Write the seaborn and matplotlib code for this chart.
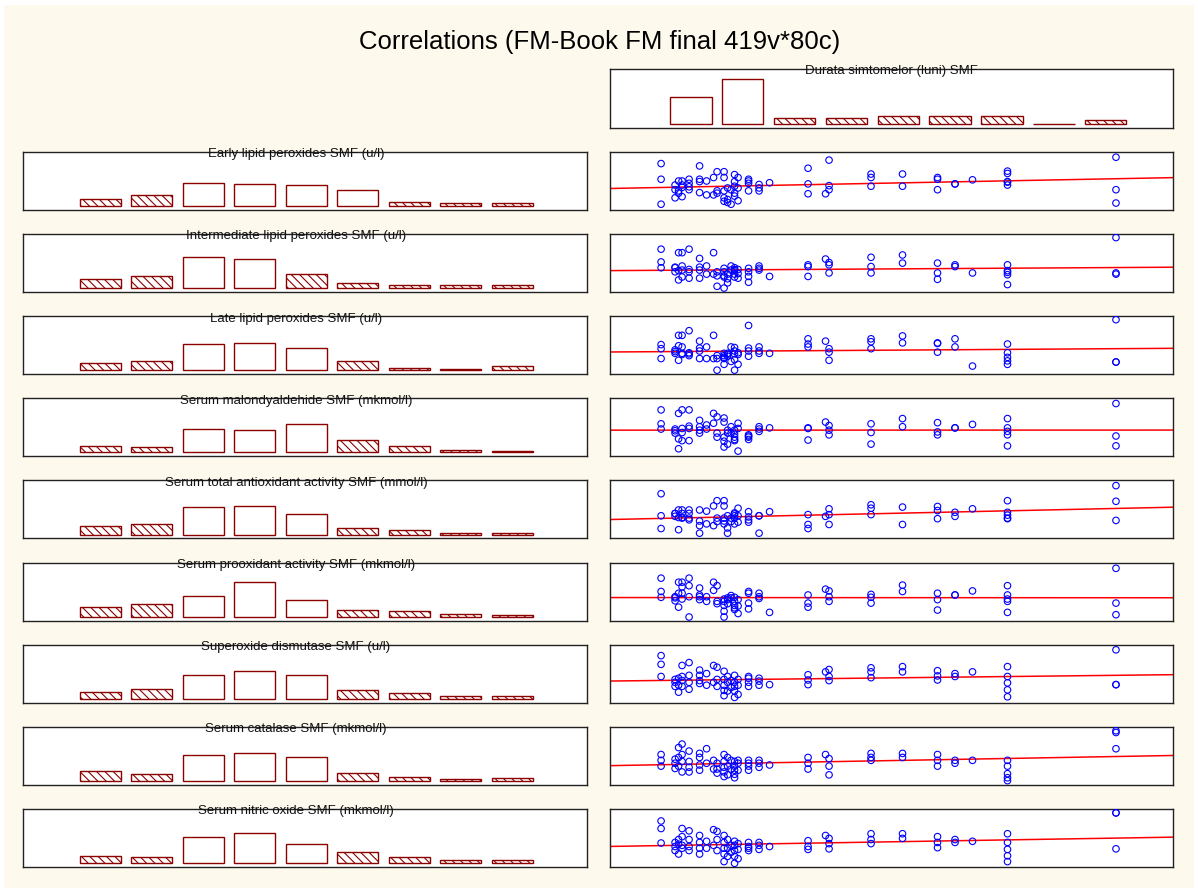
import numpy as np
import pandas as pd
import matplotlib
matplotlib.use("Agg")
import matplotlib.pyplot as plt
from matplotlib.patches import Rectangle
import seaborn as sns

# ---------------- data ----------------
chart_title = "Correlations (FM-Book FM final 419v*80c)"
x_title = "Durata simtomelor (luni) SMF"
var_titles = [
    "Early lipid peroxides SMF (u/l)",
    "Intermediate lipid peroxides SMF (u/l)",
    "Late lipid peroxides SMF (u/l)",
    "Serum malondyaldehide SMF (mkmol/l)",
    "Serum total antioxidant activity SMF (mmol/l)",
    "Serum prooxidant activity SMF (mkmol/l)",
    "Superoxide dismutase SMF (u/l)",
    "Serum catalase SMF (mkmol/l)",
    "Serum nitric oxide SMF (mkmol/l)",
]
bins = [1, 2, 3, 4, 5, 6, 7, 8, 9]

durata_counts = [19, 32, 4, 4, 6, 6, 6, 0, 3]
early_counts = [5, 8, 17, 16, 15, 12, 3, 2, 2]
inter_counts = [7, 9, 23, 21, 10, 4, 2, 2, 2]
late_counts = [5, 7, 19, 20, 16, 7, 2, 1, 3]
malon_counts = [5, 4, 17, 16, 21, 9, 5, 2, 1]
total_counts = [6, 8, 20, 21, 15, 5, 3, 1, 1]
proox_counts = [7, 9, 15, 25, 12, 5, 4, 2, 1]
superox_counts = [5, 7, 17, 20, 17, 6, 4, 2, 2]
catal_counts = [7, 5, 19, 20, 17, 6, 3, 1, 2]
nitric_counts = [5, 4, 19, 22, 14, 8, 4, 2, 2]

durata = [1, 1, 1, 5, 5, 5, 6, 6, 6, 7, 7, 7, 7, 9, 9, 9, 9, 12, 12, 12, 12,
          14, 14, 16, 16, 17, 17, 17, 19, 19, 19, 19, 19, 20, 20, 20, 21, 21,
          22, 22, 22, 22, 22, 23, 23, 23, 26, 26, 26, 26, 29, 29, 29, 32,
          43, 43, 43, 48, 49, 49, 49, 61, 61, 61, 70, 70, 80, 80, 80, 85, 85,
          90, 100, 100, 100, 100, 100, 131, 131, 131]

early = [80, 53, 10, 43, 21, 35, 33, 50, 29, 50, 39, 23, 43, 53, 40, 35, 46, 76, 53, 30, 49,
         50, 26, 56, 26, 66, 33, 29, 66, 56, 33, 21, 15, 38, 18, 13, 10, 35,
         61, 49, 41, 29, 24, 56, 38, 16, 53, 46, 33, 50, 44, 38, 33, 47,
         72, 45, 28, 28, 86, 42, 35, 62, 56, 41, 62, 41, 56, 53, 35, 45, 45,
         52, 67, 63, 48, 43, 49, 91, 35, 12]
inter = [74, 52, 42, 42, 35, 43, 21, 37, 68, 68, 45, 26, 38, 74, 35, 24, 39, 58, 43, 24, 38,
         45, 31, 68, 31, 35, 28, 10, 41, 35, 28, 7, 26, 23, 16, 31, 45, 38,
         42, 37, 31, 26, 39, 39, 32, 24, 41, 35, 27, 17, 45, 38, 41, 27,
         47, 44, 27, 57, 51, 47, 33, 60, 44, 33, 64, 50, 50, 33, 22, 47, 44,
         33, 47, 34, 30, 13, 37, 94, 33, 31]
late = [51, 44, 27, 42, 36, 39, 24, 49, 67, 47, 67, 36, 34, 75, 37, 32, 35, 57, 45, 40, 27,
        47, 27, 67, 27, 32, 27, 7, 36, 32, 29, 27, 17, 34, 31, 36, 47, 22,
        46, 40, 35, 25, 7, 37, 34, 17, 84, 45, 40, 31, 47, 40, 36, 36,
        61, 52, 47, 57, 44, 38, 24, 61, 56, 44, 66, 54, 54, 38, 53, 61, 47,
        14, 52, 37, 29, 23, 17, 94, 21, 21]
malon = [80, 56, 47, 47, 40, 44, 30, 13, 74, 48, 80, 27, 41, 80, 52, 27, 48, 62, 51, 40, 45,
         47, 54, 74, 57, 68, 40, 33, 66, 59, 33, 26, 16, 45, 40, 21, 51, 40,
         45, 38, 33, 27, 29, 57, 48, 9, 37, 33, 29, 35, 51, 43, 47, 49,
         49, 28, 48, 59, 53, 45, 37, 56, 41, 21, 65, 51, 58, 42, 37, 49, 49,
         55, 65, 49, 37, 18, 43, 91, 35, 18]
total = [77, 39, 17, 43, 38, 43, 15, 49, 36, 49, 36, 43, 35, 49, 35, 32, 43, 49, 30, 22, 9,
         47, 25, 56, 22, 65, 35, 29, 65, 56, 35, 30, 25, 39, 18, 9, 29, 35,
         44, 42, 35, 25, 39, 52, 39, 28, 46, 37, 32, 28, 39, 9, 39, 46,
         41, 24, 17, 38, 51, 41, 24, 58, 52, 41, 54, 24, 55, 48, 34, 45, 38,
         51, 65, 45, 34, 40, 35, 91, 64, 31]
proox = [73, 50, 40, 41, 34, 39, 23, 66, 47, 47, 66, 58, 37, 73, 60, 6, 41, 56, 41, 36, 44,
         41, 33, 66, 52, 60, 33, 29, 37, 26, 6, 16, 33, 36, 29, 39, 43, 39,
         40, 33, 26, 19, 22, 36, 25, 12, 50, 47, 30, 20, 47, 38, 41, 14,
         44, 30, 23, 54, 51, 41, 33, 45, 40, 30, 61, 50, 47, 36, 18, 44, 44,
         51, 60, 44, 33, 14, 37, 90, 30, 10]
superox = [81, 66, 45, 35, 28, 40, 42, 18, 30, 38, 64, 28, 45, 69, 47, 35, 23, 47, 33, 56, 38,
           50, 30, 64, 35, 61, 40, 28, 54, 40, 30, 21, 12, 45, 35, 20, 38, 26,
           47, 35, 28, 20, 9, 40, 30, 14, 42, 35, 28, 45, 37, 30, 42, 31,
           48, 39, 31, 53, 57, 45, 38, 60, 53, 43, 62, 53, 55, 46, 39, 50, 45,
           53, 62, 45, 34, 22, 10, 91, 31, 31]
catal = [52, 42, 32, 37, 28, 44, 32, 64, 47, 70, 40, 22, 52, 58, 40, 30, 22, 47, 34, 25, 54,
         62, 37, 42, 27, 37, 27, 20, 52, 40, 30, 22, 14, 47, 32, 17, 42, 27,
         40, 32, 25, 18, 12, 37, 25, 42, 42, 32, 25, 37, 37, 30, 42, 34,
         47, 37, 27, 52, 45, 32, 17, 54, 47, 42, 54, 47, 52, 42, 32, 42, 37,
         42, 42, 32, 19, 12, 7, 93, 90, 62]
nitric = [79, 66, 41, 35, 28, 42, 47, 22, 39, 66, 52, 32, 37, 62, 47, 35, 28, 54, 42, 32, 22,
          44, 32, 64, 37, 61, 47, 28, 54, 42, 32, 22, 9, 47, 32, 18, 37, 25,
          44, 37, 28, 18, 6, 40, 30, 14, 42, 35, 28, 32, 37, 30, 42, 35,
          45, 35, 30, 54, 49, 40, 31, 57, 47, 40, 57, 49, 52, 42, 33, 47, 42,
          44, 57, 42, 30, 19, 9, 93, 93, 31]

all_counts = [early_counts, inter_counts, late_counts, malon_counts, total_counts,
              proox_counts, superox_counts, catal_counts, nitric_counts]
all_y = [early, inter, late, malon, total, proox, superox, catal, nitric]

# ---------------- style ----------------
sns.set_theme(style="white")
plt.rcParams["font.family"] = ["Liberation Sans", "DejaVu Sans"]
plt.rcParams["hatch.color"] = "#8B0000"
plt.rcParams["hatch.linewidth"] = 0.8

W, H = 1198, 892
CREAM = "#FEF9ED"
BAR_EDGE = "#8B0000"
SPINE = "#222222"
HATCH_MAX = 10
HIST_YLIM = (-2.8, 39.3)
XLIM_SCATTER = (-13.6, 147.3)

fig = plt.figure(figsize=(W / 100, H / 100), dpi=100)
fig.patch.set_facecolor("white")
fig.patches.append(Rectangle((4 / W, 1 - 888 / H), 1190 / W, 883 / H,
                             transform=fig.transFigure, facecolor=CREAM,
                             edgecolor="none", zorder=-10))

fig.text(600 / W, 1 - 42 / H, chart_title, ha="center", va="center",
         fontsize=18.5, color="black")


def add_ax(x0, y0, x1, y1):
    ax = fig.add_axes([x0 / W, 1 - y1 / H, (x1 - x0) / W, (y1 - y0) / H])
    ax.set_facecolor("white")
    for sp in ax.spines.values():
        sp.set_visible(True)
        sp.set_color(SPINE)
        sp.set_linewidth(1.0)
    return ax


def finish(ax):
    ax.set_xticks([])
    ax.set_yticks([])
    ax.set_xlabel("")
    ax.set_ylabel("")


def panel_title(ax, text, xc):
    ax.text(xc, 0.96, text, transform=ax.transAxes, ha="center", va="center",
            fontsize=9.5, color="#111111", zorder=5)


def draw_hist(ax, counts, title, xlim, title_x):
    df = pd.DataFrame({"bin": bins, "count": counts})
    sns.barplot(data=df, x="bin", y="count", ax=ax, color="white",
                edgecolor=BAR_EDGE, linewidth=1.0, width=0.8, saturation=1,
                errorbar=None)
    for p, c in zip(ax.patches, counts):
        if c <= HATCH_MAX:
            p.set_hatch("\\\\\\\\")
    ax.set_xlim(*xlim)
    ax.set_ylim(*HIST_YLIM)
    finish(ax)
    panel_title(ax, title, title_x)


def draw_scatter(ax, yvals):
    ax.set_xlim(*XLIM_SCATTER)
    ax.set_ylim(0, 100)
    df = pd.DataFrame({"x": durata, "y": yvals})
    sns.regplot(data=df, x="x", y="y", ax=ax, ci=None, truncate=False,
                color="#0000FF",
                scatter_kws=dict(s=22, facecolors="none", edgecolors="#0000FF",
                                 linewidths=0.8, alpha=1, zorder=3),
                line_kws=dict(color="#FF0000", lw=1.1, zorder=2))
    ax.set_xlim(*XLIM_SCATTER)
    ax.set_ylim(0, 100)
    finish(ax)


# top-right histogram of durata
ax_top = add_ax(610, 69, 1173, 128)
draw_hist(ax_top, durata_counts, x_title, (-1.56, 9.3), 0.5)

row_top = 152
pitch = 82.1
ph = 58
for i in range(9):
    y0 = row_top + i * pitch
    axl = add_ax(23, y0, 587, y0 + ph)
    draw_hist(axl, all_counts[i], var_titles[i], (-1.5, 9.45), 0.484)
    axr = add_ax(610, y0, 1173, y0 + ph)
    draw_scatter(axr, all_y[i])

fig.savefig("out.png", dpi=100, facecolor=fig.get_facecolor())
